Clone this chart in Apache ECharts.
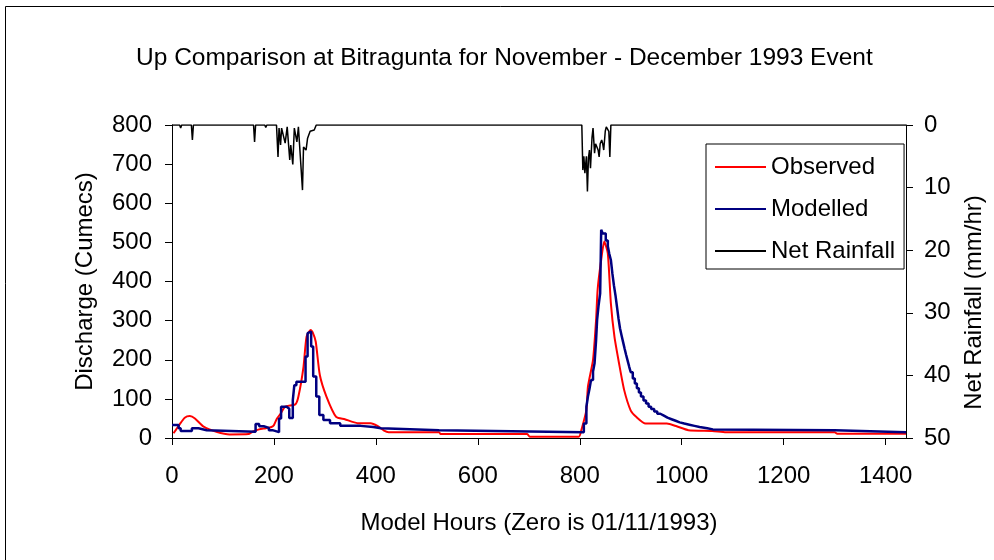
<!DOCTYPE html>
<html>
<head>
<meta charset="utf-8">
<script src="https://cdn.jsdelivr.net/npm/echarts@6/dist/echarts.min.js"></script>
<style>
  html, body { margin: 0; padding: 0; background: #fff; }
  #chart { width: 994px; height: 560px; }
</style>
</head>
<body>
<div id="chart"></div>
<script>
  // data (hours since 01/11/1993)
  const obsHours = [3, 15, 25, 35, 45, 62, 87, 113, 150, 158, 171, 184, 195, 200, 206, 213, 222, 242, 248, 258, 264, 272, 276, 282, 290, 303, 322, 339, 364, 390, 403, 416, 425, 524, 527, 697, 702, 798, 803, 813, 816, 826, 832, 835, 842, 848, 855, 861, 868, 877, 887, 900, 910, 929, 971, 990, 1013, 1060, 1087, 1300, 1305, 1440];
  const obsFlow = [12, 35, 52, 56, 50, 29, 16, 9, 10, 16, 22, 25, 28, 33, 50, 62, 80, 86, 106, 182, 259, 276, 270, 246, 161, 106, 54, 48, 38, 38, 31, 19, 15, 15, 10, 10, 3, 3, 20, 72, 131, 200, 302, 379, 455, 502, 472, 344, 259, 191, 123, 70, 55, 37, 37, 30, 20, 18, 15, 15, 11, 11];

  // modelled flow is a stepped trace: each value holds until the next hour listed
  const modHours = [0, 13, 17, 39, 52, 68, 164, 171, 180, 190, 197, 210, 214, 225, 230, 237, 240, 244, 262, 266, 269, 273, 277, 283, 289, 297, 310, 330, 370, 395, 410, 524,
    808, 813, 816, 819, 822, 826, 829, 832, 834, 837, 840, 842, 845, 851, 855, 858, 861, 864, 867, 870, 873, 876, 879, 882, 885, 888, 891, 894, 897, 900, 904, 908, 912, 916, 920, 925, 930, 935, 940, 946, 952, 958, 965, 972, 980, 988, 996, 1005, 1015, 1025, 1035, 1050, 1061, 1300, 1440];
  const modFlow = [33, 25, 18, 25, 20, 16, 36, 30, 26, 20, 15, 50, 80, 75, 51, 97, 135, 144, 208, 268, 272, 234, 157, 106, 59, 46, 38, 31, 28, 25, 20, 15,
    37, 80, 106, 125, 148, 170, 191, 250, 302, 340, 370, 532, 523, 505, 490, 470, 455, 420, 390, 365, 335, 305, 280, 262, 245, 228, 212, 197, 182, 168, 152, 139, 127, 116, 106, 96, 88, 80, 74, 68, 62, 57, 52, 48, 44, 40, 37, 34, 31, 28, 25, 22, 20, 15, 15];

  const rainHours = [0, 15, 17, 19, 38, 40, 42, 160, 162, 164, 182, 184, 186, 205, 208, 210, 213, 215, 217, 222, 226, 231, 233, 234, 237, 240, 245, 248, 256, 258, 260, 263, 266, 268, 271, 274, 279, 283, 804, 806, 808, 810, 813, 815, 817, 819, 821, 824, 826, 829, 831, 834, 836, 838, 840, 843, 845, 847, 850, 852, 855, 857, 859, 861, 1440];
  const rainDepth = [0, 0, 0.5, 0, 0, 2.4, 0, 0, 2.7, 0, 0, 0.4, 0, 0, 5.1, 0.5, 3.2, 0.5, 0.5, 2.9, 0.3, 5.6, 3.2, 3.2, 6.3, 0.5, 2.7, 0.3, 10.4, 3.5, 3.5, 4, 2.1, 2.1, 1, 1.3, 0.8, 0, 0, 7.2, 5, 7.7, 5, 10.6, 5.3, 4, 6.9, 2, 0.5, 4.5, 3, 3.2, 4, 5.1, 3, 2.4, 3, 4, 1, 0.3, 0.4, 1, 5.1, 0, 0];

  const xTicks = [0, 200, 400, 600, 800, 1000, 1200, 1400];

  const FONT = "'Liberation Sans', Arial, sans-serif";

  const pairs = (xs, ys) => xs.map((x, i) => [x, ys[i]]);

  const chart = echarts.init(document.getElementById('chart'));

  const axisText = { color: '#000', fontSize: 24, fontFamily: FONT };

  const option = {
    backgroundColor: '#fff',
    animation: false,
    title: {
      text: 'Up Comparison at Bitragunta for November - December 1993 Event',
      left: 131,
      top: 41,
      textStyle: { color: '#000', fontSize: 24.5, fontWeight: 'normal', fontFamily: FONT },
    },
    legend: {
      orient: 'vertical',
      left: 706,
      top: 144,
      padding: [11, 9, 6, 9],
      itemGap: 18,
      itemWidth: 51,
      itemHeight: 2,
      icon: 'rect',
      backgroundColor: '#fff',
      borderColor: '#000',
      borderWidth: 1,
      borderRadius: 0,
      textStyle: { color: '#000', fontSize: 24, fontFamily: FONT },
      data: ['Observed', 'Modelled', 'Net Rainfall'],
    },
    grid: { left: 172, right: 77, top: 125, bottom: 122, containLabel: false },
    xAxis: {
      type: 'value',
      min: 0,
      max: 1440,
      interval: 200,
      name: 'Model Hours (Zero is 01/11/1993)',
      nameLocation: 'middle',
      nameGap: 73,
      nameTextStyle: axisText,
      axisLine: { show: true, onZero: false, lineStyle: { color: '#000', width: 1 } },
      axisTick: { show: true, inside: false, length: 7, customValues: xTicks, lineStyle: { color: '#000' } },
      axisLabel: { ...axisText, margin: 26, customValues: xTicks, formatter: (v) => String(v) },
      splitLine: { show: false },
    },
    yAxis: [
      {
        type: 'value',
        min: 0,
        max: 800,
        interval: 100,
        name: 'Discharge (Cumecs)',
        nameLocation: 'middle',
        nameGap: 75,
        nameRotate: 90,
        nameTextStyle: axisText,
        axisLine: { show: true, onZero: false, lineStyle: { color: '#000', width: 1 } },
        axisTick: { show: true, length: 7, lineStyle: { color: '#000' } },
        axisLabel: { ...axisText, margin: 20 },
        splitLine: { show: false },
      },
      {
        type: 'value',
        position: 'right',
        inverse: true,
        min: 0,
        max: 50,
        interval: 10,
        name: 'Net Rainfall (mm/hr)',
        nameLocation: 'middle',
        nameGap: 56,
        nameRotate: 90,
        // shifts the name a little down, as in the original
        nameTextStyle: { ...axisText, padding: [0, 42, 0, 0] },
        axisLine: { show: true, onZero: false, lineStyle: { color: '#000', width: 1 } },
        axisTick: { show: true, length: 7, lineStyle: { color: '#000' } },
        axisLabel: { ...axisText, margin: 18 },
        splitLine: { show: false },
      },
    ],
    series: [
      {
        name: 'Observed',
        type: 'line',
        data: pairs(obsHours, obsFlow),
        showSymbol: false,
        symbol: 'none',
        smooth: 0.2,
        itemStyle: { color: '#ff0000' },
        lineStyle: { color: '#ff0000', width: 2 },
      },
      {
        name: 'Modelled',
        type: 'line',
        data: pairs(modHours, modFlow),
        step: 'end',
        showSymbol: false,
        symbol: 'none',
        itemStyle: { color: '#000080' },
        lineStyle: { color: '#000080', width: 2.5 },
      },
      {
        name: 'Net Rainfall',
        type: 'line',
        yAxisIndex: 1,
        data: pairs(rainHours, rainDepth),
        showSymbol: false,
        symbol: 'none',
        itemStyle: { color: '#000' },
        lineStyle: { color: '#000', width: 1.5 },
      },
    ],
    graphic: [
      {
        type: 'rect',
        silent: true,
        z: 100,
        shape: { x: 5.5, y: 6.5, width: 1100, height: 700 },
        style: { fill: 'none', stroke: '#000', lineWidth: 1 },
      },
    ],
  };

  chart.setOption(option);
</script>
</body>
</html>
